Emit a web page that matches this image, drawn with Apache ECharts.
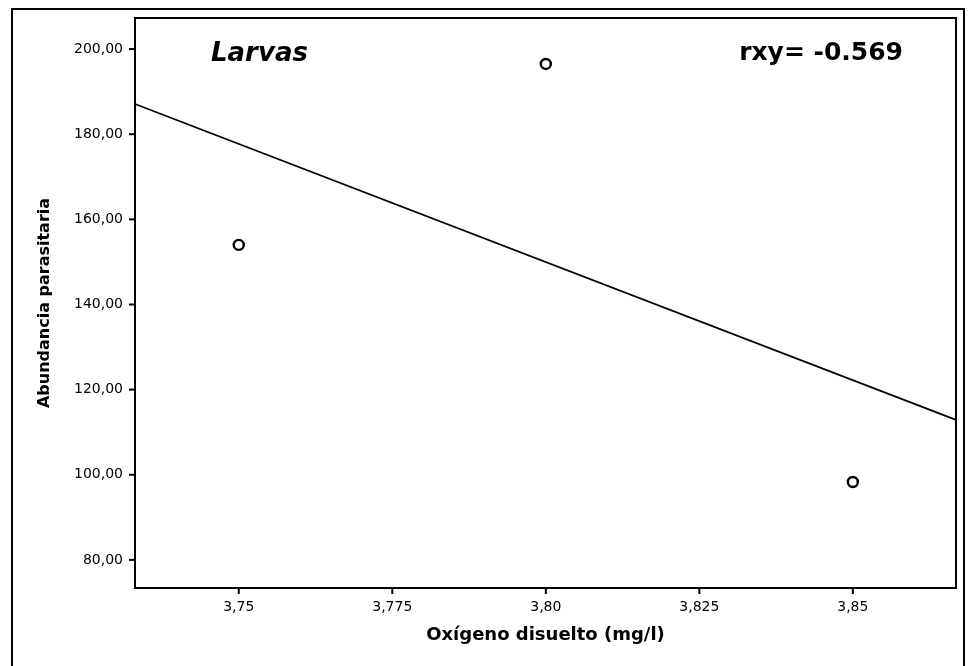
<!DOCTYPE html>
<html>
<head>
<meta charset="utf-8">
<script src="https://cdn.jsdelivr.net/npm/echarts@6/dist/echarts.min.js"></script>
<style>
html,body{margin:0;padding:0;background:#fff;}
#chart{width:968px;height:666px;}
</style>
</head>
<body>
<div id="chart"></div>
<script>
// Data
const oxygenValues = [3.75, 3.80, 3.85];
const abundanceValues = [154, 196.5, 98.3];
// Fit line end points (read at the plot edges)
const fitLineX = [3.7331, 3.8668];
const fitLineY = [187.1, 112.9];
// Ticks and their labels
const xTickValues = [3.75, 3.775, 3.80, 3.825, 3.85];
const xTickLabels = ['3,75', '3,775', '3,80', '3,825', '3,85'];
const yTickValues = [80, 100, 120, 140, 160, 180, 200];
const yTickLabels = ['80,00', '100,00', '120,00', '140,00', '160,00', '180,00', '200,00'];
const titleText = 'Larvas';
const corrText = 'rxy= -0.569';
const xTitle = 'Oxígeno disuelto (mg/l)';
const yTitle = 'Abundancia parasitaria';

const X_MIN = 3.7331, X_MAX = 3.8668, Y_MIN = 73.4, Y_MAX = 207.3;
const FONT = 'DejaVu Sans';
const chart = echarts.init(document.getElementById('chart'), null, {renderer: 'canvas'});

function labelFor(values, labels, v) {
  for (let i = 0; i < values.length; i++) {
    if (Math.abs(values[i] - v) < 1e-6) return labels[i];
  }
  return '';
}

function tickSeries(values, isX) {
  return {
    type: 'custom',
    silent: true,
    clip: false,
    z: 5,
    data: values.map(v => isX ? [v, Y_MIN] : [X_MIN, v]),
    renderItem: function (params, api) {
      const p = api.coord([api.value(0), api.value(1)]);
      const shape = isX
        ? {x1: p[0], y1: p[1], x2: p[0], y2: p[1] + 6}
        : {x1: p[0], y1: p[1], x2: p[0] - 6, y2: p[1]};
      return {type: 'line', shape: shape, style: {stroke: '#000', lineWidth: 2}};
    }
  };
}

const option = {
  backgroundColor: '#fff',
  animation: false,
  grid: {
    left: 135, right: 12, top: 18, bottom: 78,
    show: true, borderColor: '#000', borderWidth: 2, backgroundColor: 'transparent'
  },
  xAxis: {
    type: 'value',
    min: X_MIN, max: X_MAX,
    name: xTitle,
    nameLocation: 'middle',
    nameGap: 38,
    nameTextStyle: {fontFamily: FONT, fontSize: 18, fontWeight: 'bold', color: '#000'},
    axisLine: {show: true, onZero: false, lineStyle: {color: '#000', width: 2}},
    axisTick: {show: false},
    axisLabel: {
      customValues: xTickValues,
      margin: 12,
      fontFamily: FONT, fontSize: 14, color: '#000',
      formatter: v => labelFor(xTickValues, xTickLabels, v)
    },
    splitLine: {show: false}
  },
  yAxis: {
    type: 'value',
    min: Y_MIN, max: Y_MAX,
    name: yTitle,
    nameLocation: 'middle',
    nameGap: 82,
    nameRotate: 90,
    nameTextStyle: {fontFamily: FONT, fontSize: 16, fontWeight: 'bold', color: '#000'},
    axisLine: {show: true, onZero: false, lineStyle: {color: '#000', width: 2}},
    axisTick: {show: false},
    axisLabel: {
      customValues: yTickValues,
      margin: 12,
      fontFamily: FONT, fontSize: 14, color: '#000',
      formatter: v => labelFor(yTickValues, yTickLabels, v)
    },
    splitLine: {show: false}
  },
  graphic: [
    {
      type: 'rect', silent: true, z: 100,
      shape: {x: 12, y: 9, width: 952, height: 700},
      style: {fill: 'none', stroke: '#000', lineWidth: 2}
    },
    {
      type: 'text', left: 211, top: 41, z: 100,
      style: {text: titleText, fill: '#000', font: 'italic bold 26px "DejaVu Sans"'}
    },
    {
      type: 'text', right: 65, top: 41, z: 100,
      style: {text: corrText, fill: '#000', font: 'bold 25px "DejaVu Sans"'}
    }
  ],
  series: [
    {
      type: 'line',
      data: fitLineX.map((x, i) => [x, fitLineY[i]]),
      showSymbol: false,
      symbol: 'none',
      lineStyle: {color: '#000', width: 1.8},
      silent: true,
      z: 2
    },
    {
      type: 'scatter',
      data: oxygenValues.map((x, i) => [x, abundanceValues[i]]),
      symbol: 'circle',
      symbolSize: 10,
      itemStyle: {color: '#fff', borderColor: '#000', borderWidth: 2.4, opacity: 1},
      z: 3
    },
    tickSeries(xTickValues, true),
    tickSeries(yTickValues, false)
  ]
};
chart.setOption(option);
</script>
</body>
</html>
